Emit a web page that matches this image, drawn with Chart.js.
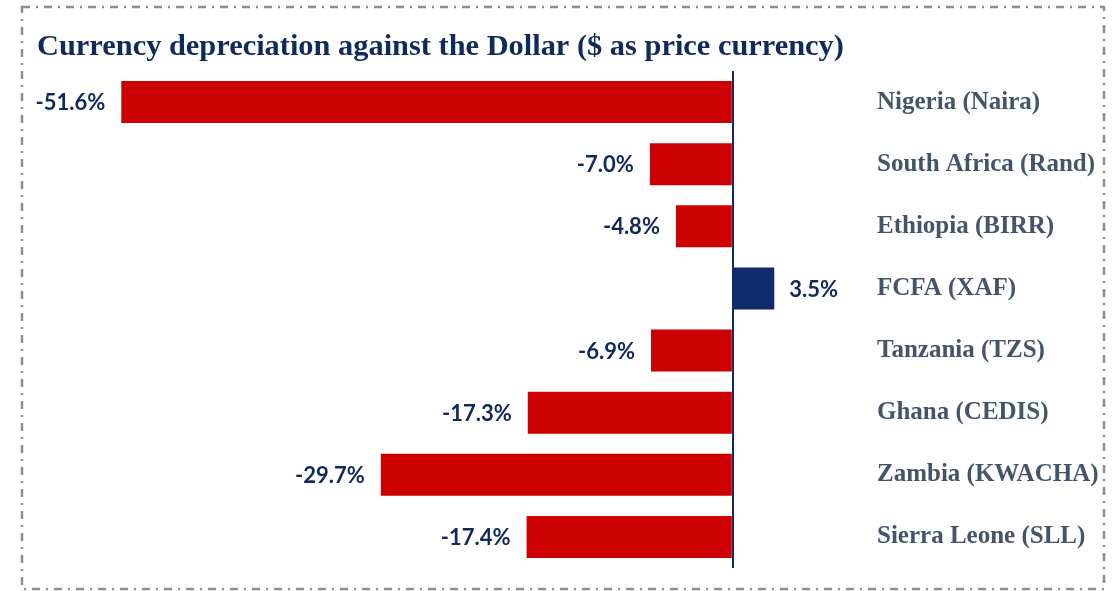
<!DOCTYPE html>
<html>
<head>
<meta charset="utf-8">
<script src="https://cdn.jsdelivr.net/npm/chart.js@4"></script>
<style>
  html, body { margin: 0; padding: 0; background: #fff; }
  #wrap { width: 1114px; height: 591px; position: relative; }
</style>
</head>
<body>
<div id="wrap"><canvas id="chart" width="1114" height="591"></canvas></div>
<script>
// chart data
const countries = ["Nigeria (Naira)", "South Africa (Rand)", "Ethiopia (BIRR)", "FCFA (XAF)",
  "Tanzania (TZS)", "Ghana (CEDIS)", "Zambia (KWACHA)", "Sierra Leone (SLL)"];
const changes = [-51.6, -7.0, -4.8, 3.5, -6.9, -17.3, -29.7, -17.4];
const titleText = "Currency depreciation against the Dollar ($ as price currency)";

const RED = "#cc0000";
const NAVY = "#102a6b";

// border + title + value labels
const decor = {
  id: "decor",
  afterDraw(chart) {
    const ctx = chart.ctx;
    ctx.save();
    ctx.strokeStyle = "#8e8e8e";
    ctx.lineWidth = 2.5;
    ctx.setLineDash([8, 6, 2, 6]);
    ctx.strokeRect(22, 7, 1082, 582);
    ctx.setLineDash([]);

    ctx.fillStyle = "#0f2b5b";
    ctx.font = "bold 30.4px 'Liberation Serif'";
    ctx.textBaseline = "middle";
    ctx.textAlign = "left";
    ctx.fillText(titleText, 37, 47);

    const meta = chart.getDatasetMeta(0);
    ctx.font = "bold 22px Lato";
    ctx.fillStyle = "#10285c";
    meta.data.forEach((bar, i) => {
      const v = changes[i];
      const txt = v.toFixed(1) + "%";
      if (v < 0) {
        ctx.textAlign = "right";
        ctx.fillText(txt, bar.x - 16, bar.y + 1);
      } else {
        ctx.textAlign = "left";
        ctx.fillText(txt, bar.x + 15, bar.y + 1);
      }
    });
    ctx.restore();
  }
};

new Chart(document.getElementById("chart"), {
  type: "bar",
  data: {
    labels: countries,
    datasets: [{
      data: changes,
      backgroundColor: changes.map(v => v < 0 ? RED : NAVY),
      categoryPercentage: 1,
      barPercentage: 0.675
    }]
  },
  options: {
    indexAxis: "y",
    responsive: false,
    animation: false,
    layout: { padding: { left: 81, top: 71, bottom: 23, right: 0 } },
    plugins: { legend: { display: false }, tooltip: { enabled: false } },
    scales: {
      x: {
        min: -55,
        max: 12,
        ticks: { display: false },
        border: { display: false },
        grid: {
          drawTicks: false,
          lineWidth: 2,
          color: c => c.tick && c.tick.value === 0 ? NAVY : "rgba(0,0,0,0)"
        }
      },
      y: {
        position: "right",
        afterFit(scale) { scale.width = 239; },
        border: { display: false },
        grid: { display: false, drawTicks: false },
        ticks: {
          padding: 2,
          color: "#44546a",
          font: { family: "'Liberation Serif'", weight: "bold", size: 25 }
        }
      }
    }
  },
  plugins: [decor]
});
</script>
</body>
</html>
